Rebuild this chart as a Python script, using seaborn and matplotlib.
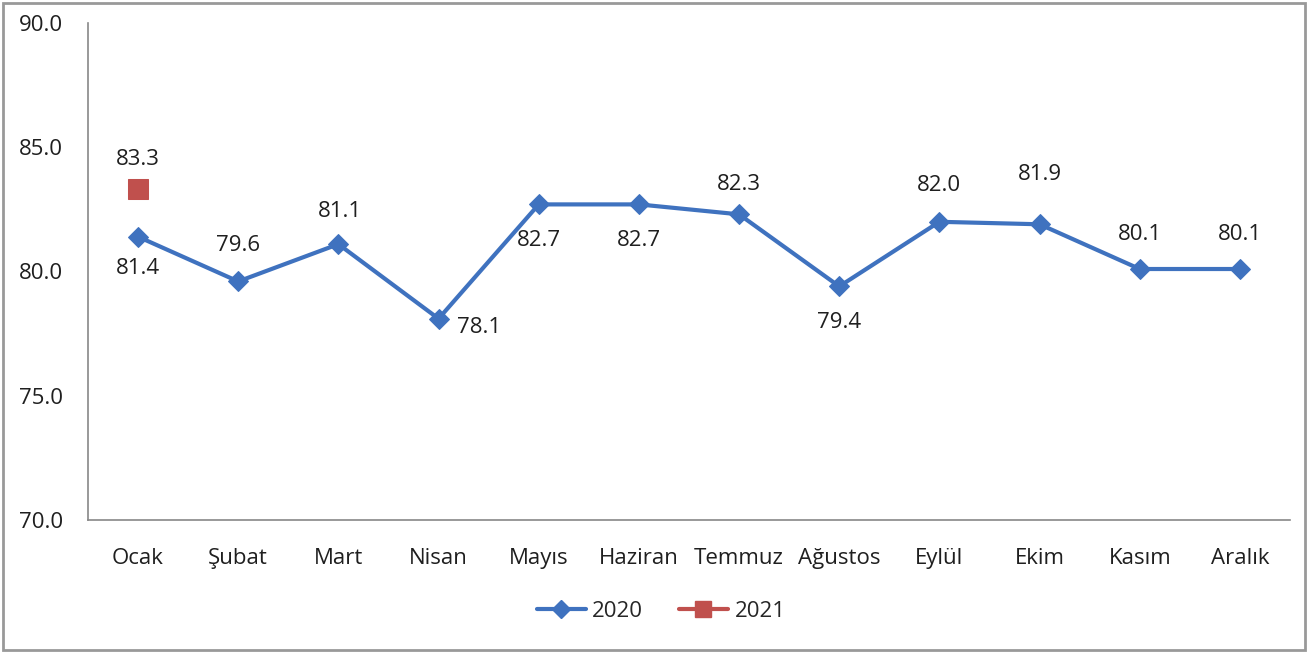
import numpy as np
import pandas as pd
import seaborn as sns
import matplotlib.pyplot as plt
from matplotlib.lines import Line2D

months = ["Ocak", "Şubat", "Mart", "Nisan", "Mayıs", "Haziran", "Temmuz",
          "Ağustos", "Eylül", "Ekim", "Kasım", "Aralık"]
values_2020 = [81.4, 79.6, 81.1, 78.1, 82.7, 82.7, 82.3, 79.4, 82.0, 81.9, 80.1, 80.1]
values_2021 = [83.3]
yticks = [70.0, 75.0, 80.0, 85.0, 90.0]
# label placement per point (dx px, dy px)
offsets_2020 = [(0, -32), (0, 36), (2, 33), (40, -9), (0, -36), (0, -36),
                (0, 30), (0, -36), (0, 36), (0, 50), (0, 35), (0, 35)]

sns.set_theme(style="white")
plt.rcParams['font.family'] = ['Open Sans', 'DejaVu Sans']

blue = "#3F72BF"
red = "#C0504D"
txt = "#1f1f1f"
fs = 16

fig = plt.figure(figsize=(13.09, 6.52), dpi=100)
ax = fig.add_axes([0.0672, 0.2025, 0.9183, 0.7622])

df20 = pd.DataFrame({"x": np.arange(len(values_2020)), "y": values_2020})
df21 = pd.DataFrame({"x": np.arange(len(values_2021)), "y": values_2021})

sns.lineplot(data=df20, x="x", y="y", ax=ax, color=blue, linewidth=3,
             marker="D", markersize=10, markeredgecolor=blue, legend=False)
sns.lineplot(data=df21, x="x", y="y", ax=ax, color=red, linewidth=3,
             marker="s", markersize=14, markeredgecolor=red, legend=False)

for i, v in enumerate(values_2020):
    dx, dy = offsets_2020[i]
    ax.annotate(f"{v:.1f}", (i, v), xytext=(dx, dy), textcoords="offset pixels",
                ha="center", va="center", fontsize=fs, color=txt)
for i, v in enumerate(values_2021):
    ax.annotate(f"{v:.1f}", (i, v), xytext=(0, 30), textcoords="offset pixels",
                ha="center", va="center", fontsize=fs, color=txt)

n = len(months)
ax.set_xlim(-0.5, n - 0.5)
ax.set_ylim(70, 90)
ax.set_yticks(yticks)
ax.set_yticklabels([f"{t:.1f}" for t in yticks], fontsize=fs, color=txt)
ax.set_xticks(np.arange(-0.5, n, 1.0))
ax.set_xticklabels([])
ax.set_xticks(np.arange(n), minor=True)
ax.set_xticklabels(months, minor=True, fontsize=fs, color=txt)
ax.tick_params(axis="x", which="major", direction="out", length=5, width=1, color="#888888")
ax.tick_params(axis="x", which="minor", length=0, pad=20)
ax.tick_params(axis="y", direction="out", length=5, width=1, color="#888888", pad=13)
ax.set_xlabel("")
ax.set_ylabel("")
for s in ["top", "right"]:
    ax.spines[s].set_visible(False)
for s in ["left", "bottom"]:
    ax.spines[s].set_color("#888888")
    ax.spines[s].set_linewidth(1.2)

handles = [Line2D([], [], color=blue, linewidth=3, marker="D", markersize=9),
           Line2D([], [], color=red, linewidth=3, marker="s", markersize=11)]
fig.legend(handles, ["2020", "2021"], loc="center", bbox_to_anchor=(0.505, 0.062),
           ncol=2, frameon=False, fontsize=fs, handlelength=2.2, columnspacing=1.6,
           handletextpad=0.3)

border = plt.Rectangle((0.002, 0.003), 0.995, 0.993, transform=fig.transFigure,
                       fill=False, edgecolor="#999999", linewidth=2)
fig.patches.append(border)

fig.savefig("out.png", dpi=100)
